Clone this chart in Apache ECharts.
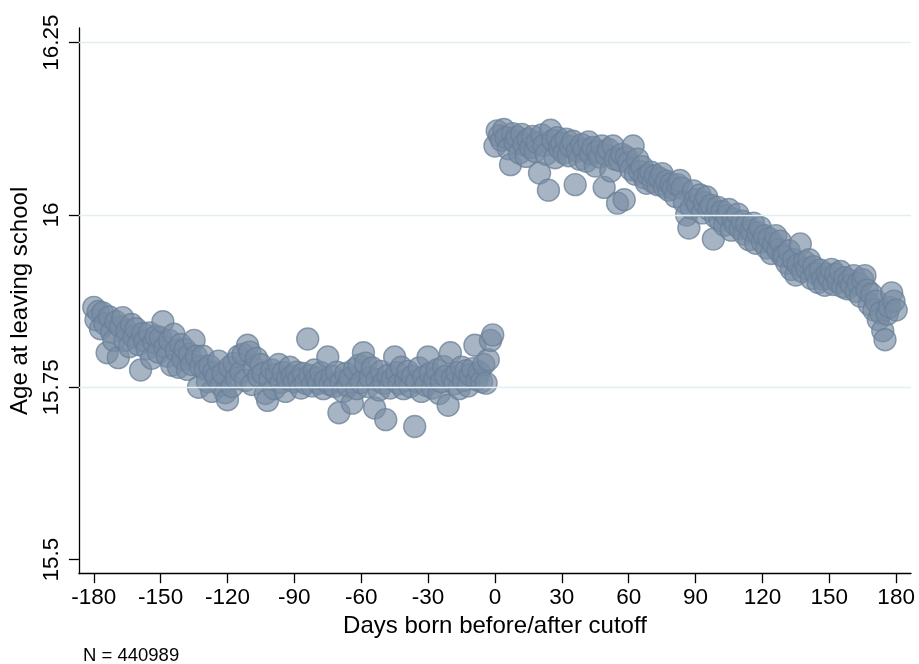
<!DOCTYPE html>
<html>
<head>
<meta charset="utf-8">
<script src="https://cdn.jsdelivr.net/npm/echarts@6/dist/echarts.min.js"></script>
<style>
  html, body { margin: 0; padding: 0; background: #ffffff; }
  #chart { width: 919px; height: 664px; }
</style>
</head>
<body>
<div id="chart"></div>
<script>
// Axis ticks
const xTicks = [-180, -150, -120, -90, -60, -30, 0, 30, 60, 90, 120, 150, 180];
const yTicks = [15.5, 15.75, 16, 16.25];
const yGridLines = [15.75, 16, 16.25];

// Mean age at leaving school, one value per birth day, days -180 .. -1
const firstDayBefore = -180;
const ageBefore = [
  15.866, 15.848, 15.860, 15.835, 15.858, 15.842, 15.800, 15.852, 15.830, 15.818,
  15.845, 15.793, 15.838, 15.851, 15.818, 15.832, 15.809, 15.841, 15.823, 15.835,
  15.812, 15.775, 15.828, 15.817, 15.806, 15.829, 15.792, 15.815, 15.824, 15.801,
  15.822, 15.845, 15.808, 15.795, 15.818, 15.782, 15.827, 15.803, 15.779, 15.812,
  15.791, 15.805, 15.776, 15.798, 15.783, 15.818, 15.795, 15.750, 15.780, 15.795,
  15.776, 15.758, 15.781, 15.744, 15.772, 15.765, 15.788, 15.753, 15.770, 15.742,
  15.732, 15.779, 15.751, 15.785, 15.763, 15.795, 15.772, 15.798, 15.760, 15.811,
  15.801, 15.754, 15.778, 15.792, 15.766, 15.783, 15.770, 15.741, 15.731, 15.762,
  15.775, 15.748, 15.769, 15.783, 15.757, 15.771, 15.744, 15.762, 15.779, 15.766,
  15.758, 15.772, 15.761, 15.749, 15.770, 15.756, 15.820, 15.767, 15.752, 15.775,
  15.763, 15.756, 15.771, 15.748, 15.760, 15.794, 15.754, 15.766, 15.751, 15.772,
  15.713, 15.758, 15.744, 15.770, 15.752, 15.763, 15.727, 15.776, 15.748, 15.782,
  15.757, 15.800, 15.785, 15.751, 15.764, 15.778, 15.720, 15.761, 15.746, 15.773,
  15.756, 15.703, 15.767, 15.749, 15.762, 15.794, 15.771, 15.755, 15.779, 15.748,
  15.760, 15.773, 15.751, 15.766, 15.693, 15.758, 15.778, 15.744, 15.765, 15.753,
  15.794, 15.770, 15.749, 15.762, 15.775, 15.741, 15.758, 15.780, 15.766, 15.724,
  15.800, 15.764, 15.755, 15.771, 15.748, 15.779, 15.760, 15.774, 15.752, 15.768,
  15.777, 15.811, 15.761, 15.772, 15.758, 15.783, 15.756, 15.790, 15.818, 15.826
];

// Mean age at leaving school, one value per birth day, days 0 .. 180
const firstDayAfter = 0;
const ageAfter = [
  16.100, 16.122, 16.115, 16.108, 16.124, 16.112, 16.096, 16.073, 16.118, 16.106,
  16.113, 16.090, 16.117, 16.102, 16.085, 16.110, 16.098, 16.114, 16.092, 16.105,
  16.061, 16.116, 16.101, 16.088, 16.036, 16.123, 16.108, 16.083, 16.112, 16.097,
  16.104, 16.090, 16.110, 16.086, 16.099, 16.107, 16.044, 16.093, 16.081, 16.102,
  16.095, 16.078, 16.106, 16.089, 16.098, 16.071, 16.092, 16.084, 16.100, 16.040,
  16.087, 16.095, 16.064, 16.100, 16.081, 16.017, 16.079, 16.088, 16.022, 16.084,
  16.076, 16.066, 16.100, 16.059, 16.081, 16.063, 16.070, 16.054, 16.046, 16.058,
  16.062, 16.048, 16.057, 16.044, 16.053, 16.060, 16.041, 16.049, 16.036, 16.045,
  16.038, 16.027, 16.044, 16.050, 16.039, 16.018, 16.000, 15.981, 16.010, 16.035,
  16.022, 16.015, 16.029, 16.003, 16.018, 16.026, 16.008, 16.014, 15.965, 15.997,
  16.011, 15.992, 16.005, 15.985, 15.999, 16.008, 15.978, 15.994, 15.986, 16.001,
  15.980, 15.991, 15.972, 15.986, 15.964, 15.977, 15.988, 15.959, 15.974, 15.982,
  15.961, 15.970, 15.952, 15.966, 15.944, 15.958, 15.970, 15.949, 15.962, 15.940,
  15.940, 15.930, 15.948, 15.921, 15.935, 15.913, 15.928, 15.958, 15.918, 15.932,
  15.922, 15.935, 15.908, 15.925, 15.915, 15.902, 15.920, 15.907, 15.898, 15.914,
  15.908, 15.921, 15.899, 15.914, 15.903, 15.918, 15.896, 15.909, 15.893, 15.905,
  15.898, 15.912, 15.889, 15.901, 15.882, 15.906, 15.912, 15.891, 15.870, 15.885,
  15.862, 15.875, 15.848, 15.858, 15.832, 15.819, 15.856, 15.866, 15.887, 15.875,
  15.862
];

const sampleNote = 'N = 440989';
const xTitle = 'Days born before/after cutoff';
const yTitle = 'Age at leaving school';

// Pair each value with its birth day
const points = [];
ageBefore.forEach((v, i) => points.push([firstDayBefore + i, v]));
ageAfter.forEach((v, i) => points.push([firstDayAfter + i, v]));

const FONT = '"Liberation Sans", Arial, Helvetica, sans-serif';
const chart = echarts.init(document.getElementById('chart'), null, { renderer: 'canvas' });

chart.setOption({
  animation: false,
  backgroundColor: '#ffffff',
  textStyle: { fontFamily: FONT },
  grid: { left: 78.7, right: 8, top: 28, bottom: 90.3, containLabel: false },
  xAxis: {
    type: 'value',
    min: -186.67,
    max: 186.67,
    name: xTitle,
    nameLocation: 'middle',
    nameGap: 36,
    nameTextStyle: { color: '#000', fontSize: 24, fontFamily: FONT },
    axisLine: { show: true, onZero: false, lineStyle: { color: '#000', width: 1.3 } },
    axisTick: { show: true, length: 9.5, customValues: xTicks, lineStyle: { color: '#000', width: 1.3 } },
    axisLabel: { show: true, customValues: xTicks, margin: 13, color: '#000', fontSize: 22.5, fontFamily: FONT },
    splitLine: { show: false }
  },
  yAxis: {
    type: 'value',
    min: 15.4795,
    max: 16.2713,
    name: yTitle,
    nameLocation: 'middle',
    nameRotate: 90,
    nameGap: 44,
    nameTextStyle: { color: '#000', fontSize: 24, fontFamily: FONT },
    axisLine: { show: true, onZero: false, lineStyle: { color: '#000', width: 1.3 } },
    axisTick: { show: true, length: 10, customValues: yTicks, lineStyle: { color: '#000', width: 1.3 } },
    axisLabel: {
      show: true, customValues: yTicks, rotate: 90, margin: 16,
      color: '#000', fontSize: 22.5, fontFamily: FONT,
      formatter: v => String(v)
    },
    splitLine: { show: false }
  },
  series: [
    {
      // horizontal reference lines behind the markers
      type: 'line',
      data: [],
      z: 1,
      silent: true,
      markLine: {
        silent: true,
        symbol: ['none', 'none'],
        label: { show: false },
        lineStyle: { color: '#e4eef0', width: 1.4, type: 'solid' },
        data: yGridLines.map(v => ({ yAxis: v }))
      }
    },
    {
      type: 'scatter',
      z: 3,
      data: points,
      symbol: 'circle',
      symbolSize: 22,
      itemStyle: {
        color: 'rgba(120,141,164,0.82)',
        borderColor: 'rgba(104,127,152,0.92)',
        borderWidth: 1.4
      },
      emphasis: { disabled: true }
    }
  ],
  graphic: [
    {
      type: 'text',
      left: 83,
      top: 646,
      style: { text: sampleNote, fill: '#000', font: '18.5px ' + FONT }
    }
  ]
});
</script>
</body>
</html>
